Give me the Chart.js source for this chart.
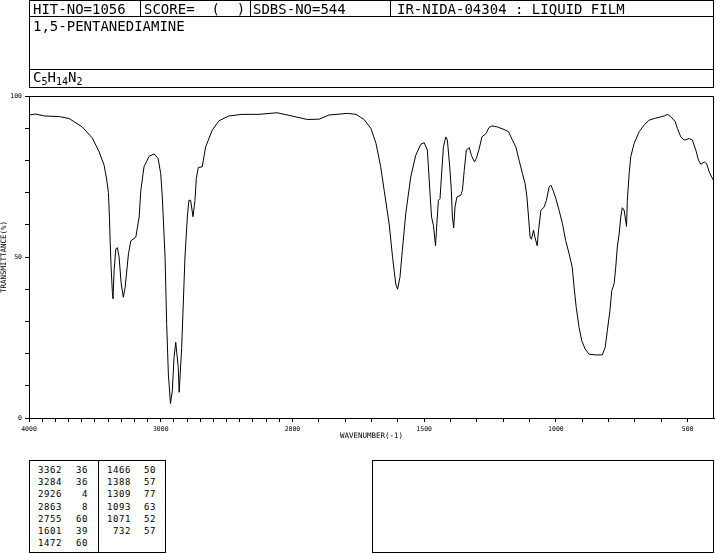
<!DOCTYPE html>
<html>
<head>
<meta charset="utf-8">
<script src="https://cdn.jsdelivr.net/npm/chart.js@4.4.0/dist/chart.umd.min.js"></script>
<style>
  body { margin: 0; background: #fff; }
  #page { position: relative; width: 715px; height: 553px; overflow: hidden; font-family: "DejaVu Sans Mono", monospace; color: #000; }
  #chart { position: absolute; left: 0; top: 0; }
  .ln { position: absolute; background: #000; }
  .hd { position: absolute; font-size: 14px; line-height: 14px; white-space: pre; }
  .hd sub { font-size: 10px; vertical-align: -3px; line-height: 0; }
  .tb { position: absolute; font-size: 9px; line-height: 12.2px; letter-spacing: 0.6px; text-align: right; white-space: pre; }
</style>
</head>
<body>
<div id="page">
  <canvas id="chart" width="715" height="450"></canvas>

  <!-- header boxes -->
  <div class="ln" style="left:29px;top:0;width:685px;height:1px"></div>
  <div class="ln" style="left:29px;top:16px;width:685px;height:1px"></div>
  <div class="ln" style="left:29px;top:69px;width:685px;height:1px"></div>
  <div class="ln" style="left:29px;top:87px;width:685px;height:1px"></div>
  <div class="ln" style="left:29px;top:0;width:1px;height:88px"></div>
  <div class="ln" style="left:713px;top:0;width:1px;height:88px"></div>
  <div class="ln" style="left:140px;top:0;width:1px;height:17px"></div>
  <div class="ln" style="left:250px;top:0;width:1px;height:17px"></div>
  <div class="ln" style="left:390px;top:0;width:1px;height:17px"></div>
  <div class="hd" style="left:33px;top:2px">HIT-NO=1056</div>
  <div class="hd" style="left:144px;top:2px">SCORE=  (  )</div>
  <div class="hd" style="left:253px;top:2px">SDBS-NO=544</div>
  <div class="hd" style="left:397px;top:2px">IR-NIDA-04304 : LIQUID FILM</div>
  <div class="hd" style="left:33px;top:19px">1,5-PENTANEDIAMINE</div>
  <div class="hd" style="left:33px;top:70px">C<sub>5</sub>H<sub>14</sub>N<sub>2</sub></div>

  <!-- peak table boxes -->
  <div class="ln" style="left:29px;top:460px;width:137px;height:1px"></div>
  <div class="ln" style="left:29px;top:552px;width:137px;height:1px"></div>
  <div class="ln" style="left:29px;top:460px;width:1px;height:93px"></div>
  <div class="ln" style="left:165px;top:460px;width:1px;height:93px"></div>
  <div class="ln" style="left:98px;top:460px;width:1px;height:93px"></div>
  <div class="ln" style="left:372px;top:460px;width:342px;height:1px"></div>
  <div class="ln" style="left:372px;top:552px;width:342px;height:1px"></div>
  <div class="ln" style="left:372px;top:460px;width:1px;height:93px"></div>
  <div class="ln" style="left:713px;top:460px;width:1px;height:93px"></div>
  <div id="peaks"></div>
</div>
<script>
// spectrum trace (wavenumber cm-1, transmittance %)
const waveNumbers = [
  4000, 3950, 3884, 3770, 3695, 3596, 3520, 3467, 3430, 3412, 3397, 3389, 3384, 3377, 3367, 3362,
  3354, 3341, 3329, 3316, 3301, 3284, 3270, 3245, 3227, 3189, 3164, 3151, 3127, 3088, 3051, 3020,
  3000, 2988, 2967, 2955, 2942, 2926, 2912, 2899, 2886, 2867, 2860, 2841, 2816, 2798, 2786, 2773,
  2755, 2740, 2730, 2715, 2685, 2659, 2609, 2558, 2483, 2382, 2255, 2117, 2028,
  1943, 1899, 1861, 1791, 1759, 1728, 1702, 1683, 1665, 1652, 1633, 1620, 1608, 1601, 1592, 1583,
  1570, 1551, 1532, 1513, 1500, 1488, 1484, 1477, 1472, 1465, 1457, 1452, 1446, 1440, 1433, 1427,
  1418, 1412, 1403, 1397, 1393, 1388, 1383, 1376, 1361, 1355, 1348, 1340, 1329, 1321, 1309, 1302,
  1291, 1281, 1266, 1254, 1243, 1222, 1197, 1180, 1165, 1152, 1140, 1127, 1117, 1110, 1104, 1098,
  1093, 1085, 1080, 1071, 1066, 1057, 1045, 1036, 1026, 1019, 1011, 1000, 988, 975, 963, 950,
  938, 931, 923, 912, 902, 889, 874, 849, 824, 813, 805, 795, 788, 779, 773, 767,
  760, 754, 748, 741, 732, 729, 722, 716, 703, 684, 665, 646, 627, 608, 589, 577,
  564, 547, 539, 526, 513, 494, 482, 469, 459, 450, 437, 428, 418, 408, 400
];
const transmittance = [
  94.1, 94.4, 93.8, 93.6, 93.0, 90.4, 87.0, 82.6, 78.5, 74.5, 70.0, 62.0, 55.0, 47.0, 39.0, 37.0,
  45.8, 52.5, 52.9, 50.0, 42.0, 37.5, 40.6, 51.0, 55.0, 56.2, 62.4, 70.7, 78.0, 81.3, 82.0, 80.6,
  75.9, 68.6, 49.9, 29.3, 13.6, 4.5, 8.4, 18.8, 23.5, 15.7, 8.0, 21.9, 50.0, 62.4, 67.6, 67.6,
  62.5, 67.6, 74.4, 77.8, 78.0, 84.2, 89.4, 92.3, 93.8, 94.3, 94.3, 94.8, 94.0,
  92.7, 92.8, 94.1, 94.6, 94.3, 92.7, 89.9, 85.3, 78.0, 70.7, 60.3, 49.9, 41.6, 40.0, 43.7, 52.0,
  63.5, 74.9, 81.6, 85.0, 85.5, 83.2, 78.0, 68.6, 62.4, 59.8, 53.5, 60.3, 67.6, 68.1, 76.9, 84.2,
  87.3, 86.3, 78.0, 70.7, 62.4, 59.0, 65.5, 68.6, 69.2, 70.7, 76.9, 83.2, 84.0, 81.6, 79.5, 80.6,
  83.7, 87.3, 88.3, 90.2, 90.7, 90.4, 89.6, 88.9, 86.3, 84.2, 80.1, 75.9, 72.8, 68.6, 62.4, 56.2,
  55.5, 58.3, 56.2, 53.5, 58.3, 64.5, 65.5, 67.6, 71.7, 72.3, 70.7, 68.1, 64.5, 60.3, 55.1, 51.0,
  46.8, 40.6, 34.4, 28.1, 24.0, 21.4, 19.8, 19.6, 19.6, 21.9, 27.1, 33.3, 39.6, 41.7, 46.8, 53.1,
  57.2, 62.4, 65.3, 64.5, 59.5, 67.6, 75.9, 81.1, 85.3, 88.9, 91.0, 92.5, 93.0, 93.4, 93.8, 94.3,
  93.6, 92.0, 89.9, 87.3, 86.3, 86.8, 86.3, 83.2, 80.1, 78.8, 79.5, 79.0, 76.4, 74.7, 73.5
];

// peak list
const peakWave = [3362, 3284, 2926, 2863, 2755, 1601, 1472, 1466, 1388, 1309, 1093, 1071, 732];
const peakTrans = [36, 36, 4, 8, 60, 39, 60, 50, 57, 77, 63, 52, 57];

// axis ticks
const xLabelled = [4000, 3000, 2000, 1500, 1000, 500];
const yLabelled = [0, 50, 100];

// fill the peak table (7 rows left, rest right)
const peaksDiv = document.getElementById('peaks');
const cols = [
  { left: 33, width: 29 }, { left: 64, width: 24 },
  { left: 100, width: 31 }, { left: 132, width: 24 }
];
function addCol(col, lines) {
  const d = document.createElement('div');
  d.className = 'tb';
  d.style.left = col.left + 'px';
  d.style.top = '464px';
  d.style.width = col.width + 'px';
  d.textContent = lines.join('\n');
  peaksDiv.appendChild(d);
}
addCol(cols[0], peakWave.slice(0, 7).map(String));
addCol(cols[1], peakTrans.slice(0, 7).map(String));
addCol(cols[2], peakWave.slice(7).map(String));
addCol(cols[3], peakTrans.slice(7).map(String));

// x axis: 4000-2000 at half the scale of 2000-400
function irPos(w) { return w >= 2000 ? (4000 - w) / 2 : 1000 + (2000 - w); }
function irWave(u) { return u <= 1000 ? 4000 - 2 * u : 2000 - (u - 1000); }

class IrWaveScale extends Chart.LinearScale {
  getPixelForValue(value) {
    if (value === null || value === undefined) return NaN;
    const a = irPos(this.max), b = irPos(this.min);
    return this.getPixelForDecimal((irPos(value) - a) / (b - a));
  }
  getValueForPixel(pixel) {
    const a = irPos(this.max), b = irPos(this.min);
    return irWave(a + this.getDecimalForPixel(pixel) * (b - a));
  }
}
IrWaveScale.id = 'irwave';
IrWaveScale.defaults = Chart.LinearScale.defaults;
Chart.register(IrWaveScale);

// top and right edges of the plot frame
const framePlugin = {
  id: 'frame',
  afterDraw(chart) {
    const { ctx, chartArea } = chart;
    ctx.save();
    ctx.strokeStyle = '#000';
    ctx.lineWidth = 1;
    ctx.beginPath();
    ctx.moveTo(chartArea.left, Math.round(chartArea.top) + 0.5);
    ctx.lineTo(Math.round(chartArea.right) - 0.5, Math.round(chartArea.top) + 0.5);
    ctx.lineTo(Math.round(chartArea.right) - 0.5, chartArea.bottom);
    ctx.stroke();
    ctx.restore();
  }
};

const axisFont = { family: 'DejaVu Sans Mono', size: 6.5 };
const titleFont = { family: 'DejaVu Sans Mono', size: 7.5 };

const ctx = document.getElementById('chart').getContext('2d');
new Chart(ctx, {
  type: 'line',
  data: {
    datasets: [{
      data: waveNumbers.map((w, i) => ({ x: w, y: transmittance[i] })),
      borderColor: '#000',
      borderWidth: 1,
      pointRadius: 0,
      tension: 0,
      fill: false
    }]
  },
  options: {
    responsive: false,
    animation: false,
    devicePixelRatio: 1,
    layout: { padding: { top: 96, right: 1, left: 0, bottom: 0 } },
    plugins: { legend: { display: false }, tooltip: { enabled: false } },
    scales: {
      x: {
        type: 'irwave',
        min: 400,
        max: 4000,
        afterBuildTicks: (scale) => {
          const t = [];
          for (let w = 4000; w >= 500; w -= 100) t.push({ value: w });
          scale.ticks = t;
        },
        afterFit: (scale) => { scale.height = 32; },
        grid: { drawOnChartArea: false, tickLength: 4, tickColor: '#000' },
        border: { color: '#000', width: 1 },
        ticks: {
          autoSkip: false,
          maxRotation: 0,
          padding: 3,
          color: '#000',
          font: axisFont,
          callback: (v) => xLabelled.includes(v) ? String(v) : ''
        },
        title: {
          display: true,
          text: 'WAVENUMBER(-1)',
          color: '#000',
          font: titleFont,
          padding: { top: 0, bottom: 9 }
        }
      },
      y: {
        min: 0,
        max: 100,
        afterFit: (scale) => { scale.width = 29; },
        grid: { drawOnChartArea: false, tickLength: 4, tickColor: '#000' },
        border: { color: '#000', width: 1 },
        ticks: {
          stepSize: 10,
          padding: 3,
          color: '#000',
          font: axisFont,
          callback: (v) => yLabelled.includes(v) ? String(v) : ''
        },
        title: {
          display: true,
          text: 'TRANSMITTANCE(%)',
          color: '#000',
          font: titleFont,
          padding: 0
        }
      }
    }
  },
  plugins: [framePlugin]
});
</script>
</body>
</html>
